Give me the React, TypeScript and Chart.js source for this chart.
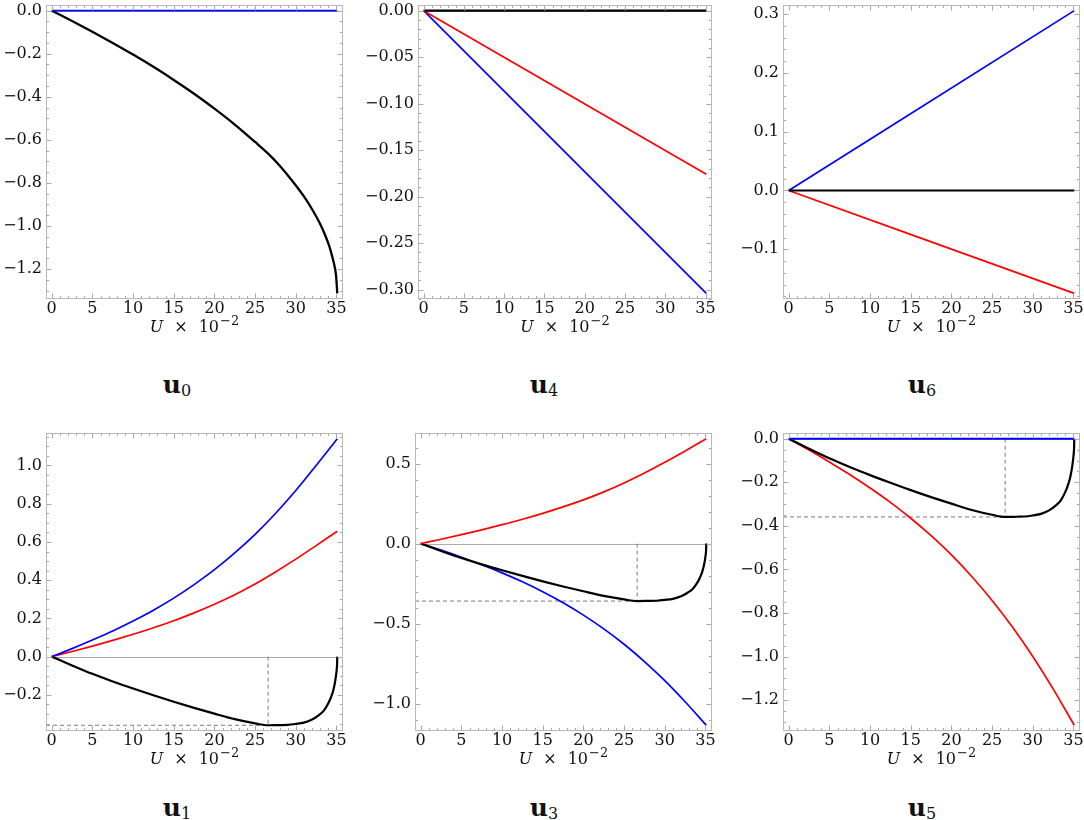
import React, { useEffect, useRef } from 'react';
import { Chart, registerables } from 'chart.js';

Chart.register(...registerables);

const BLUE = '#0000ff';
const RED = '#ff0000';
const BLACK = '#000000';
const FONT = '"DejaVu Serif", "Liberation Serif", serif';

// U x 10^-2 sampling shared by the smooth curves
const xGrid = [0, 2.5, 5, 7.5, 10, 12.5, 15, 17.5, 20, 22.5, 25, 27.5, 30, 32.5, 35.1];
const xEnds = [0, 35.1];
const xTicks = [0, 5, 10, 15, 20, 25, 30, 35];

// u0
const u0BlackX = [0, 2.5, 5, 7.5, 10, 12.5, 15, 17.5, 20, 22.5, 25, 26.6, 28, 29.7, 31, 32.2, 33, 33.6, 34.1, 34.4, 34.7, 34.95, 35.1];
const u0BlackY = [0, -0.048, -0.098, -0.15, -0.204, -0.261, -0.322, -0.386, -0.455, -0.529, -0.61, -0.664, -0.719, -0.797, -0.863, -0.935, -0.991, -1.042, -1.092, -1.131, -1.176, -1.231, -1.313];
const u0Blue = [0, 0];
const u0YTicks = [0, -0.2, -0.4, -0.6, -0.8, -1.0, -1.2];

// u4
const u4Black = [0, 0];
const u4Red = [0, -0.176];
const u4Blue = [0, -0.304];
const u4YTicks = [0, -0.05, -0.1, -0.15, -0.2, -0.25, -0.3];

// u6
const u6Blue = [0, 0.306];
const u6Black = [0, 0];
const u6Red = [0, -0.175];
const u6YTicks = [0.3, 0.2, 0.1, 0, -0.1];

// black loop shared by u1, u3, u5, with its minimum marked by dashed guides
const loopX = [0, 2.5, 5, 7.5, 10, 12.5, 15, 17.5, 20, 22.5, 25, 26.6, 28, 29, 30, 31, 32, 32.8, 33.4, 33.9, 34.3, 34.6, 34.85, 35.0, 35.07, 35.1];
const loopY = [0, -0.046, -0.09, -0.13, -0.167, -0.202, -0.236, -0.268, -0.298, -0.327, -0.349, -0.359, -0.358, -0.357, -0.352, -0.345, -0.329, -0.307, -0.285, -0.252, -0.215, -0.177, -0.126, -0.08, -0.045, 0];
const minU = 26.6;
const minVal = -0.359;

// u1
const u1Blue = [0, 0.042, 0.087, 0.134, 0.186, 0.243, 0.306, 0.377, 0.455, 0.543, 0.64, 0.749, 0.869, 1.0, 1.14];
const u1Red = [0, 0.027, 0.055, 0.085, 0.117, 0.151, 0.188, 0.229, 0.274, 0.324, 0.38, 0.443, 0.51, 0.581, 0.656];
const u1YTicks = [1.0, 0.8, 0.6, 0.4, 0.2, 0, -0.2];

// u3
const u3Red = [0, 0.027, 0.056, 0.086, 0.118, 0.152, 0.189, 0.229, 0.273, 0.323, 0.379, 0.441, 0.508, 0.579, 0.655];
const u3Blue = [0, -0.041, -0.085, -0.132, -0.183, -0.239, -0.301, -0.37, -0.447, -0.533, -0.629, -0.737, -0.856, -0.988, -1.135];
const u3YTicks = [0.5, 0, -0.5, -1.0];

// u5
const u5Blue = [0, 0];
const u5Red = [0, -0.052, -0.107, -0.164, -0.226, -0.292, -0.365, -0.445, -0.533, -0.632, -0.742, -0.864, -0.999, -1.148, -1.315];
const u5YTicks = [0, -0.2, -0.4, -0.6, -0.8, -1.0, -1.2];

type Line = { x: number[]; y: number[]; color: string; width: number };
type PanelDef = {
  sub: string;
  col: number; // canvas left edge
  frame: [number, number, number, number]; // chart area l, t, r, b in page px
  labelX: number;
  labelTop: number;
  lines: Line[];
  yTicks: number[];
  yMinor: number;
  decimals: number;
  guides: boolean;
};

const panels: PanelDef[] = [
  {
    sub: '0', col: 0, frame: [46, 5, 343, 299], labelX: 177, labelTop: 372,
    lines: [
      { x: xEnds, y: u0Blue, color: BLUE, width: 1.8 },
      { x: u0BlackX, y: u0BlackY, color: BLACK, width: 2.3 },
    ],
    yTicks: u0YTicks, yMinor: 0.05, decimals: 1, guides: false,
  },
  {
    sub: '4', col: 355, frame: [418, 5, 712, 299], labelX: 544, labelTop: 372,
    lines: [
      { x: xEnds, y: u4Black, color: BLACK, width: 2.2 },
      { x: xEnds, y: u4Red, color: RED, width: 1.7 },
      { x: xEnds, y: u4Blue, color: BLUE, width: 1.7 },
    ],
    yTicks: u4YTicks, yMinor: 0.01, decimals: 2, guides: false,
  },
  {
    sub: '6', col: 722, frame: [783, 5, 1080, 299], labelX: 922, labelTop: 372,
    lines: [
      { x: xEnds, y: u6Black, color: BLACK, width: 2.2 },
      { x: xEnds, y: u6Blue, color: BLUE, width: 1.7 },
      { x: xEnds, y: u6Red, color: RED, width: 1.7 },
    ],
    yTicks: u6YTicks, yMinor: 0.02, decimals: 1, guides: false,
  },
  {
    sub: '1', col: 0, frame: [46, 433, 343, 731], labelX: 177, labelTop: 795,
    lines: [
      { x: xGrid, y: u1Blue, color: BLUE, width: 1.7 },
      { x: xGrid, y: u1Red, color: RED, width: 1.7 },
      { x: loopX, y: loopY, color: BLACK, width: 2.2 },
    ],
    yTicks: u1YTicks, yMinor: 0.05, decimals: 1, guides: true,
  },
  {
    sub: '3', col: 355, frame: [415, 433, 712, 731], labelX: 544, labelTop: 795,
    lines: [
      { x: xGrid, y: u3Red, color: RED, width: 1.7 },
      { x: loopX, y: loopY, color: BLACK, width: 2.2 },
      { x: xGrid, y: u3Blue, color: BLUE, width: 1.7 },
    ],
    yTicks: u3YTicks, yMinor: 0.1, decimals: 1, guides: true,
  },
  {
    sub: '5', col: 722, frame: [783, 433, 1080, 731], labelX: 922, labelTop: 795,
    lines: [
      { x: xEnds, y: u5Blue, color: BLUE, width: 1.8 },
      { x: loopX, y: loopY, color: BLACK, width: 2.2 },
      { x: xGrid, y: u5Red, color: RED, width: 1.7 },
    ],
    yTicks: u5YTicks, yMinor: 0.05, decimals: 1, guides: true,
  },
];

const PAD_TOP = 17;
const BOTTOM_AREA = 48;
const FRAME_COLOR = '#b8b8b8';
const TICK_COLOR = '#a8a8a8';
const TEXT_COLOR = '#111111';

// Mathematica-like padded range (2% each side)
function paddedRange(values: number[]) {
  const lo = Math.min(...values);
  const hi = Math.max(...values);
  const pad = (hi - lo) * 0.02;
  return [lo - pad, hi + pad];
}

function fmt(v: number, d: number) {
  const s = (Math.abs(v) < 1e-9 ? 0 : v).toFixed(d);
  return s.replace('-', '\u2212');
}

function minorValues(min: number, max: number, step: number, majors: number[]) {
  const out: number[] = [];
  for (let k = Math.ceil(min / step - 1e-9); k * step <= max + 1e-9; k++) {
    const v = k * step;
    if (!majors.some((m) => Math.abs(m - v) < step * 1e-3)) out.push(v);
  }
  return out;
}

function makeFramePlugin(p: PanelDef) {
  return {
    id: 'mmaFrame',
    beforeDatasetsDraw(chart: any) {
      const { ctx, chartArea: a } = chart;
      const y0 = Math.round(chart.scales.y.getPixelForValue(0)) + 0.5;
      if (y0 > a.top && y0 < a.bottom) {
        ctx.save();
        ctx.strokeStyle = '#ababab';
        ctx.lineWidth = 1;
        ctx.beginPath();
        ctx.moveTo(a.left, y0);
        ctx.lineTo(a.right, y0);
        ctx.stroke();
        ctx.restore();
      }
    },
    afterDatasetsDraw(chart: any) {
      const { ctx, chartArea: a } = chart;
      const xs = chart.scales.x;
      const ys = chart.scales.y;
      const L = Math.round(a.left) + 0.5;
      const R = Math.round(a.right) - 0.5;
      const T = Math.round(a.top) + 0.5;
      const B = Math.round(a.bottom) - 0.5;
      ctx.save();
      ctx.lineWidth = 1;
      ctx.strokeStyle = TICK_COLOR;
      ctx.beginPath();
      const xMinor = minorValues(xs.min, xs.max, 1, xTicks);
      const yMinor = minorValues(ys.min, ys.max, p.yMinor, p.yTicks);
      const xMarks = [...xTicks.map((v) => [v, 5]), ...xMinor.map((v) => [v, 2.5])];
      const yMarks = [...p.yTicks.map((v) => [v, 5]), ...yMinor.map((v) => [v, 2.5])];
      xMarks.forEach(([v, len]) => {
        const px = Math.round(xs.getPixelForValue(v)) + 0.5;
        ctx.moveTo(px, B); ctx.lineTo(px, B - len);
        ctx.moveTo(px, T); ctx.lineTo(px, T + len);
      });
      yMarks.forEach(([v, len]) => {
        const py = Math.round(ys.getPixelForValue(v)) + 0.5;
        ctx.moveTo(L, py); ctx.lineTo(L + len, py);
        ctx.moveTo(R, py); ctx.lineTo(R - len, py);
      });
      ctx.stroke();
      ctx.strokeStyle = FRAME_COLOR;
      ctx.strokeRect(L, T, R - L, B - T);

      // axis title: U x 10^-2
      const parts = [
        { t: 'U', f: `italic 16px ${FONT}`, dy: 0, gap: 11 },
        { t: '\u00d7', f: `16px ${FONT}`, dy: 0, gap: 11 },
        { t: '10', f: `16px ${FONT}`, dy: 0, gap: 1 },
        { t: '\u22122', f: `13px ${FONT}`, dy: -7, gap: 0 },
      ];
      let total = 0;
      const widths = parts.map((q) => {
        ctx.font = q.f;
        const w = ctx.measureText(q.t).width;
        total += w + q.gap;
        return w;
      });
      let cx = (a.left + a.right) / 2 - total / 2;
      const base = a.bottom + 33;
      ctx.fillStyle = TEXT_COLOR;
      ctx.textBaseline = 'alphabetic';
      ctx.textAlign = 'left';
      parts.forEach((q, i) => {
        ctx.font = q.f;
        ctx.fillText(q.t, cx, base + q.dy);
        cx += widths[i] + q.gap;
      });
      ctx.restore();
    },
  };
}

function Panel({ p }: { p: PanelDef }) {
  const canvasRef = useRef<HTMLCanvasElement>(null);
  const [fl, ft, fr, fb] = p.frame;
  const top = ft - PAD_TOP;
  const width = Math.min(fr + 12, 1084) - p.col;
  const height = fb - top + BOTTOM_AREA;

  useEffect(() => {
    const allX = p.lines.flatMap((l) => l.x);
    const allY = p.lines.flatMap((l) => l.y);
    const [xMin, xMax] = paddedRange(allX);
    const [yMin, yMax] = paddedRange(allY);

    const datasets: any[] = p.lines.map((l) => ({
      data: l.x.map((x, i) => ({ x, y: l.y[i] })),
      borderColor: l.color,
      borderWidth: l.width,
      pointRadius: 0,
      cubicInterpolationMode: 'monotone',
      fill: false,
    }));
    if (p.guides) {
      const guideStyle = { borderColor: '#7a7a7a', borderWidth: 1, borderDash: [4, 3], pointRadius: 0, fill: false };
      datasets.push({ ...guideStyle, data: [{ x: minU, y: 0 }, { x: minU, y: minVal }] });
      datasets.push({ ...guideStyle, data: [{ x: xMin, y: minVal }, { x: minU, y: minVal }] });
    }

    const tickFont = { family: FONT, size: 16 };
    const chart = new Chart(canvasRef.current!, {
      type: 'line',
      data: { datasets },
      options: {
        animation: false,
        responsive: true,
        maintainAspectRatio: false,
        events: [],
        layout: { padding: { top: PAD_TOP, right: width - (fr - p.col), left: 0, bottom: 0 } },
        plugins: { legend: { display: false }, tooltip: { enabled: false } },
        scales: {
          x: {
            type: 'linear',
            min: xMin,
            max: xMax,
            grid: { display: false, drawTicks: false },
            border: { display: false },
            afterBuildTicks: (s: any) => { s.ticks = xTicks.map((v) => ({ value: v })); },
            afterFit: (s: any) => { s.height = BOTTOM_AREA; },
            ticks: {
              autoSkip: false,
              maxRotation: 0,
              padding: 0,
              color: TEXT_COLOR,
              font: tickFont,
              callback: (v: any) => String(v),
            },
          },
          y: {
            type: 'linear',
            min: yMin,
            max: yMax,
            grid: { display: false, drawTicks: false },
            border: { display: false },
            afterBuildTicks: (s: any) => { s.ticks = p.yTicks.map((v) => ({ value: v })); },
            afterFit: (s: any) => { s.width = fl - p.col; },
            ticks: {
              autoSkip: false,
              padding: 4,
              color: TEXT_COLOR,
              font: tickFont,
              callback: (v: any) => fmt(Number(v), p.decimals),
            },
          },
        },
      },
      plugins: [makeFramePlugin(p)],
    });
    return () => chart.destroy();
  }, [p]);

  return (
    <>
      <div style={{ position: 'absolute', left: p.col, top, width, height }}>
        <canvas ref={canvasRef} />
      </div>
      <div
        style={{
          position: 'absolute',
          left: p.labelX - 40,
          top: p.labelTop,
          width: 80,
          textAlign: 'center',
          fontFamily: FONT,
          fontWeight: 'bold',
          fontSize: 25,
          lineHeight: '25px',
          color: TEXT_COLOR,
        }}
      >
        u
        <span style={{ fontSize: 16, fontWeight: 'normal', position: 'relative', top: 3 }}>{p.sub}</span>
      </div>
    </>
  );
}

export default function App() {
  return (
    <div style={{ position: 'absolute', left: 0, top: 0, width: 1084, height: 820, overflow: 'hidden', background: '#fff' }}>
      {panels.map((p) => (
        <Panel key={p.sub} p={p} />
      ))}
    </div>
  );
}
